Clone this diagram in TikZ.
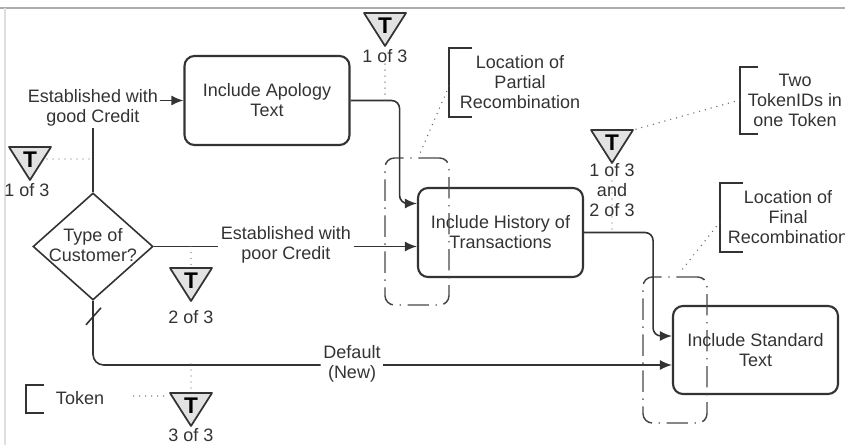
\documentclass[tikz,border=0pt]{standalone}
\usepackage{fontspec}
\setmainfont{Liberation Sans}
\usetikzlibrary{arrows.meta,shapes.geometric,calc}
\definecolor{ln}{HTML}{333333}
\definecolor{tokfill}{HTML}{E2E2E2}
\newcommand\tokenT[2]{%
  \coordinate (#1) at #2;
  \draw[draw=ln, line width=1.3pt, fill=tokfill, line join=round] ([shift={(-21,-12)}]#1) -- ([shift={(21,-12)}]#1) -- ([shift={(0,21)}]#1) -- cycle;
  \node[font=\fontsize{17}{17}\selectfont\bfseries, text=black, inner sep=0] at ([shift={(0,1)}]#1) {T};
}
\begin{document}
\begin{tikzpicture}[x=0.75pt,y=-0.75pt,
  every node/.style={font=\fontsize{13.5}{15}\selectfont, text=ln},
  box/.style={draw=ln, line width=1.6pt, rounded corners=7.5pt, inner sep=0, align=center, minimum width=123.75pt, minimum height=66.75pt},
  lbl/.style={align=center, inner sep=1pt},
  conn/.style={draw=ln, line width=1.2pt},
  arr/.style={conn, -{Latex[length=9pt,width=7.5pt]}},
  dots/.style={draw=ln!75, line width=1.1pt, line cap=round, dash pattern=on 0pt off 4.5pt},
  grp/.style={draw=ln!90, line width=1.1pt, rounded corners=7pt, dash pattern=on 16pt off 5pt on 1pt off 5pt, minimum width=48pt, inner sep=0},
  brk/.style={draw=ln, line width=1.1pt},
]
\useasboundingbox (0,0) rectangle (845,445);
% frame
\draw[gray!65, line width=1pt] (0,8) -- (845,8);
\draw[gray!25, line width=0.8pt] (5,8) -- (5,445);

% boxes
\node[box] (apo) at (267,100.5) {Include Apology\\Text};
\node[box] (hist) at (500.5,232.5) {Include History of\\Transactions};
\node[box, minimum height=66pt] (std) at (755.5,350) {Include Standard\\Text};

% decision
\node[draw=ln, line width=1.2pt, diamond, minimum width=90pt, minimum height=80.25pt, inner sep=0] (dec) at (93,246.5) {};
\node[lbl] (dect) at (93,245) {Type of\\Customer?};

% labels
\node[lbl] (lgood) at (93,108) {Established with\\good Credit};
\node[lbl, inner sep=2pt] (lpoor) at (286,245) {Established with\\poor Credit};
\node[lbl, inner sep=2pt] (ldef) at (352,364) {Default\\(New)};

% groups
\node[grp, minimum height=110.25pt] (gp) at (417,231.5) {};
\node[grp, minimum height=109.5pt] (gf) at (675,350) {};

% connectors
\draw[conn] (dec.north) -- (lgood.south);
\draw[arr] (lgood.east |- apo.west) -- (apo.west);
\draw[arr, rounded corners=6pt] (apo.east) -- ++(49,0) |- ([shift={(0,-29)}]hist.west);
\draw[conn] (dec.east) -- (lpoor.west |- dec.east);
\draw[arr] (lpoor.east |- dec.east) -- (hist.west |- dec.east);
\draw[conn, rounded corners=8pt] (dec.south) |- ([shift={(0,1)}]ldef.west);
\draw[arr] ([shift={(0,1)}]ldef.east) -- ([shift={(0,15)}]std.west);
\draw[arr, rounded corners=6pt] (hist.east) -- ++(69,0) |- ([shift={(0,-14)}]std.west);
\draw[conn] ([shift={(-7,24)}]dec.south) -- ([shift={(8,7)}]dec.south);

% tokens
\tokenT{tA}{(385,25)}
\node[lbl] (tAl) at (385,56) {1 of 3};
\tokenT{tB}{(30,159)}
\node[lbl] (tBl) at (27,190) {1 of 3};
\tokenT{tC}{(191,280)}
\node[lbl] (tCl) at (191,317) {2 of 3};
\tokenT{tD}{(191,405)}
\node[lbl] (tDl) at (191,435) {3 of 3};
\tokenT{tE}{(612,142)}
\node[lbl] (tEl) at (612,190) {1 of 3\\and\\2 of 3};

% annotations
\node[lbl] (apart) at (520,82) {Location of\\Partial\\Recombination};
\draw[brk] (472,48) -- (449,48) -- (449,117) -- (472,117);
\coordinate (bpart) at (449,86);
\node[lbl] (atwo) at (795,100) {Two\\TokenIDs in\\one Token};
\draw[brk] (758,67) -- (740,67) -- (740,134) -- (758,134);
\coordinate (btwo) at (740,100);
\node[lbl] (afin) at (788,217) {Location of\\Final\\Recombination};
\draw[brk] (743,183) -- (720,183) -- (720,252) -- (743,252);
\coordinate (bfin) at (720,222);
\node[lbl] (tokl) at (80,398) {Token};
\draw[brk] (44,385) -- (26,385) -- (26,413) -- (44,413);

% dotted associations
\draw[dots] (tAl.south) -- (tAl.south |- apo.east);
\draw[dots] ([shift={(17,0)}]tB) -- (dec.north |- tB);
\draw[dots] (tC |- dec.east) -- ([shift={(0,-13)}]tC);
\draw[dots] (tD |- ldef) -- ([shift={(0,-13)}]tD);
\draw[dots] ([shift={(28,-2)}]tokl.east) -- ([shift={(-23,-9)}]tD);
\draw[dots] ([shift={(0,21)}]tE) -- (tE |- hist.east);
\draw[dots] (btwo) -- ([shift={(21,-12)}]tE);
\draw[dots] (bpart) -- ([shift={(3,-4)}]gp.north);
\draw[dots] (bfin) -- ([shift={(5,-4)}]gf.north);
\end{tikzpicture}
\end{document}
